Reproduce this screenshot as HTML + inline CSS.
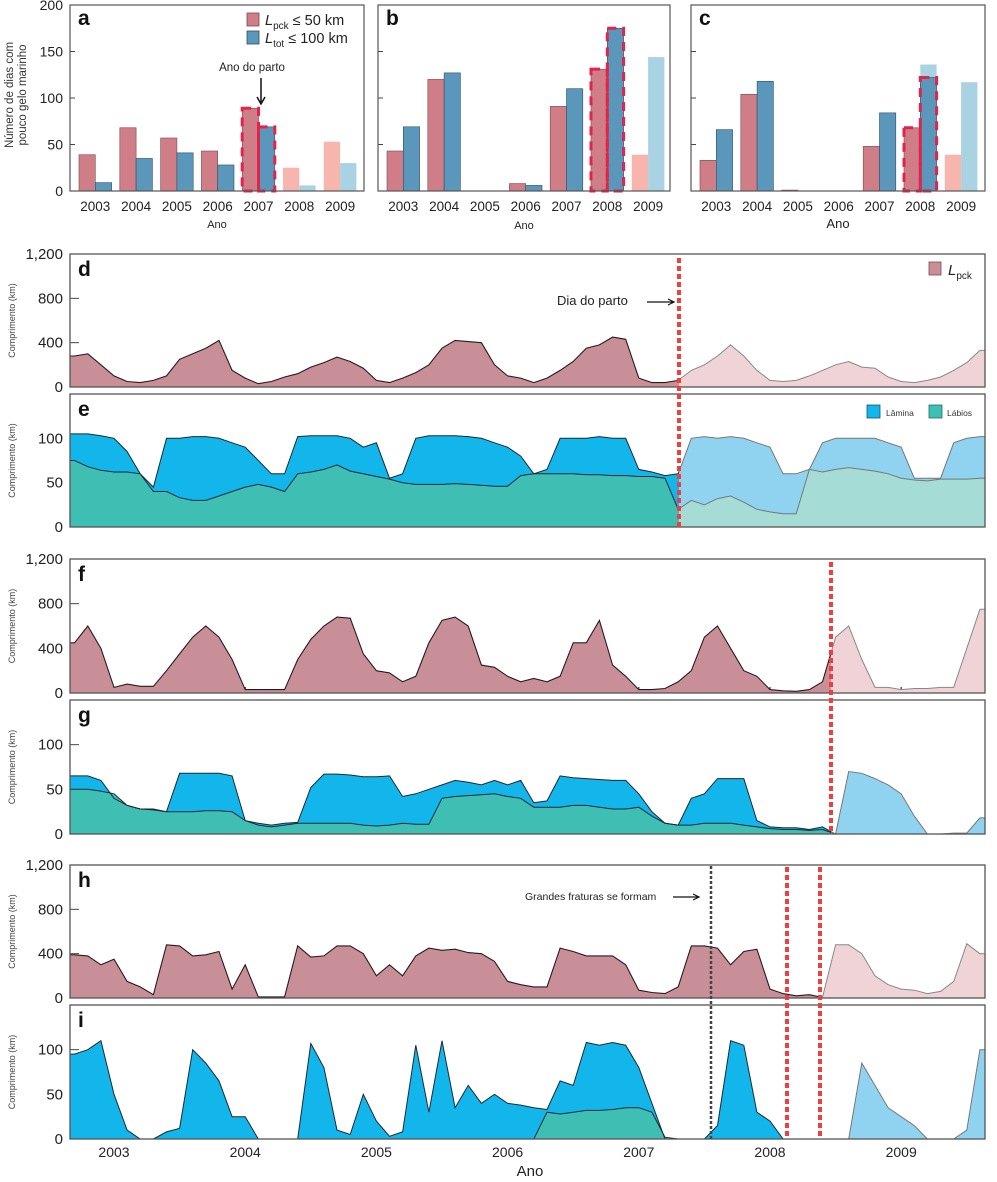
<!DOCTYPE html>
<html><head><meta charset="utf-8">
<style>
html,body{margin:0;padding:0;background:#fff;}
svg{display:block;font-family:"Liberation Sans",sans-serif;}
</style></head>
<body>
<svg id="fig" width="997" height="1182" viewBox="0 0 997 1182" xmlns="http://www.w3.org/2000/svg">
<defs>
<clipPath id="cd-dark"><rect x="70" y="0" width="609" height="1182"/></clipPath>
<clipPath id="cd-light"><rect x="679" y="0" width="306" height="1182"/></clipPath>
<clipPath id="cf-dark"><rect x="70" y="0" width="761" height="1182"/></clipPath>
<clipPath id="cf-light"><rect x="831" y="0" width="154" height="1182"/></clipPath>
<clipPath id="ch-dark"><rect x="70" y="0" width="750" height="1182"/></clipPath>
<clipPath id="ch-light"><rect x="820" y="0" width="165" height="1182"/></clipPath>
</defs>
<g id="root"></g>
</svg>
<script>
// ---- bar chart data (panels a, b, c) ----
const barYears = ["2003","2004","2005","2006","2007","2008","2009"];
const aPck = [39,68,57,43,89,25,53];
const aTot = [9,35,41,28,69,6,30];
const bPck = [43,120,0,8,91,131,39];
const bTot = [69,127,0,6,110,175,144];
const cPck = [33,104,1,0,48,68,39];
const cTot = [66,118,0,0,84,122,117];
const cTotExtra = [0,0,0,0,0,136,0];
const barTicks = [0,50,100,150,200];

// ---- time series data (t = 2002.7 + 0.1*i) ----
const tStart = 2002.7, tStep = 0.1;
const dPck = [280,300,200,
100,50,40,60,100,250,300,350,420,150,
80,30,50,90,120,180,220,270,230,170,
60,40,80,130,200,350,420,410,400,200,
100,80,40,80,150,230,350,380,450,430,
80,40,40,60,150,200,280,380,280,150,
60,50,60,100,150,200,230,180,170,90,
50,40,60,90,150,220,330];
const eTot = [105,105,103,
100,85,60,45,100,100,102,102,100,95,
90,75,60,60,102,103,103,103,100,90,
95,55,60,100,103,103,103,102,100,95,
90,80,60,65,100,100,100,102,100,100,
65,62,58,60,100,102,100,102,100,95,
90,60,60,65,95,100,100,100,100,95,
90,55,55,55,95,100,102];
const eLab = [75,68,64,
62,62,60,40,40,33,30,30,35,40,
45,48,45,40,60,62,65,70,63,60,
57,54,50,48,48,48,49,48,47,46,
46,58,60,60,60,60,59,59,58,58,
57,57,55,20,30,25,32,35,28,20,
17,15,15,65,62,65,67,65,63,60,
55,53,52,54,54,54,55];
const fPck = [450,600,400,
50,80,60,60,200,350,500,600,500,300,
30,30,30,30,300,480,600,680,670,350,
200,180,100,150,450,650,680,600,250,230,
150,100,130,100,150,450,450,650,250,150,
30,30,40,100,200,500,600,400,200,150,
30,20,15,30,100,500,600,300,50,50,
30,40,40,50,50,400,750];
const gTot = [65,65,60,
40,32,28,28,25,68,68,68,68,65,
15,12,10,12,13,52,67,67,66,64,
64,65,42,45,50,55,60,58,55,60,
55,60,35,37,65,63,62,61,60,60,
45,25,12,10,40,45,62,62,62,15,
8,7,7,5,8,0,70,68,62,55,
45,20,0,0,1,1,18];
const gLab = [50,50,48,
45,32,28,27,25,25,25,26,26,25,
15,10,8,10,12,12,12,12,12,10,
9,10,12,11,11,40,42,43,44,45,
42,40,30,30,30,32,32,30,28,28,
30,20,12,10,10,12,12,12,10,8,
6,5,5,4,5,0,0,0,0,0,
0,0,0,0,0,0,0];
const hPck = [390,380,300,
350,150,100,30,480,470,380,390,420,80,
300,10,10,10,470,370,380,470,470,400,
200,300,200,380,450,430,440,410,400,330,
150,120,100,100,450,420,380,380,380,300,
70,50,40,100,470,470,450,300,420,440,
80,40,20,30,5,480,480,400,200,120,
80,70,40,60,150,490,400];
const iTot = [95,100,110,
50,10,0,0,8,12,100,85,65,25,
25,0,0,0,0,107,80,10,5,50,
20,3,8,105,30,110,35,60,40,50,
40,38,35,33,65,60,108,105,108,105,
80,40,0,0,0,0,15,110,105,30,
20,0,0,0,0,0,0,85,60,35,
25,15,0,0,0,10,100];
const iLab = [0,0,0,
0,0,0,0,0,0,0,0,0,0,
0,0,0,0,0,0,0,0,0,0,
0,0,0,0,0,0,0,0,0,0,
0,0,0,30,28,30,32,32,33,35,
35,30,2,0,0,0,0,0,0,0,
0,0,0,0,0,0,0,0,0,0,
0,0,0,0,0,0,0];
const lowYears = [2003,2004,2005,2006,2007,2008,2009];
const pckTicks = [0,400,800,1200];
const kmTicks = [0,50,100];

const NS = "http://www.w3.org/2000/svg";
const root = document.getElementById("root");
function el(tag, attrs, parent){
  const e = document.createElementNS(NS, tag);
  for (const k in attrs) e.setAttribute(k, attrs[k]);
  (parent||root).appendChild(e);
  return e;
}
function txt(x,y,s,size,opts,parent){
  const o = Object.assign({x:x,y:y,"font-size":size,fill:"#222"}, opts||{});
  const e = el("text", o, parent);
  e.textContent = s;
  return e;
}

// ---------- bar panels ----------
const barBottom = 191, barK = 0.93;
function yB(v){ return barBottom - v*barK; }
function barPanel(name, L, R, pck, tot, lightFrom, dashIdx, letter, anoY, anoSize){
  const g = el("g", {});
  
  
  const slot = 40.8, bw = 16.3;
  for (let i=0;i<barYears.length;i++){
    const rx = L + 9 + i*slot;
    const light = i >= lightFrom;
    if (name==="panel-c" && cTotExtra[i]>0){
      const ex = el("rect", {x:rx+bw, y:yB(cTotExtra[i]), width:bw, height:barBottom-yB(cTotExtra[i]), fill:"#a9d2e2"}, g);
      
      
    }
    const r1 = el("rect", {x:rx, y:yB(pck[i]), width:bw, height:barBottom-yB(pck[i]), fill: light?"#f7b5ae":"#cf7d86", stroke: light?"none":"#7a4a50", "stroke-width":0.6}, g);
    
    
    const r2 = el("rect", {x:rx+bw, y:yB(tot[i]), width:bw, height:barBottom-yB(tot[i]), fill: light?"#a9d2e2":"#5b97bb", stroke: light?"none":"#2d4f66", "stroke-width":0.6}, g);
    
    
    if (i===dashIdx){
      const d1 = el("rect", {x:rx, y:yB(pck[i]), width:bw, height:barBottom-yB(pck[i]), fill:"none", stroke:"#e3234b", "stroke-width":3, "stroke-dasharray":"9 6"}, g);
      
      
      const d2 = el("rect", {x:rx+bw, y:yB(tot[i]), width:bw, height:barBottom-yB(tot[i]), fill:"none", stroke:"#e3234b", "stroke-width":3, "stroke-dasharray":"9 6"}, g);
      
      
    }
    const lab = txt(rx+bw, 211, barYears[i], 13.5, {"text-anchor":"middle"}, g);
    
    
  }
  for (const v of barTicks){
    const tk = el("line", {x1:L, x2:L+5, y1:yB(v), y2:yB(v), stroke:"#444", "stroke-width":1}, g);
    
    
  }
  const box = el("rect", {x:L, y:5, width:R-L, height:barBottom-5, fill:"none", stroke:"#555", "stroke-width":1.2}, g);
  
  
  const lt = txt(L+8, 25, letter, 21, {"font-weight":"bold", fill:"#111"}, g);
  
  
  const an = txt((L+R)/2, anoY, "Ano", anoSize, {"text-anchor":"middle"}, g);
  
  
}
barPanel("panel-a", 70, 364, aPck, aTot, 5, 4, "a", 228, 11);
barPanel("panel-b", 378, 670, bPck, bTot, 6, 5, "b", 229, 11);
barPanel("panel-c", 691, 985, cPck, cTot, 6, 5, "c", 228, 13);

// bar y labels
for (const v of barTicks){
  const t = txt(63, yB(v)+5, String(v), 14, {"text-anchor":"end"});
  
  
}
// ---------- time series ----------
const X0 = 114, XK = 131.2, PL = 70, PR = 985;
function X(t){ return X0 + (t-2003)*XK; }
function areaD(arr, sy, base){
  let d = "M"+PL+","+base+" L"+PL+","+sy(arr[0]).toFixed(1);
  for (let i=0;i<arr.length;i++){ d += " L"+X(tStart+i*tStep).toFixed(1)+","+sy(arr[i]).toFixed(1); }
  d += " L"+PR+","+sy(arr[arr.length-1]).toFixed(1)+" L"+PR+","+base+" Z";
  return d;
}
function lineD(arr, sy){
  let d = "M"+PL+","+sy(arr[0]).toFixed(1);
  for (let i=0;i<arr.length;i++){ d += " L"+X(tStart+i*tStep).toFixed(1)+","+sy(arr[i]).toFixed(1); }
  d += " L"+PR+","+sy(arr[arr.length-1]).toFixed(1);
  return d;
}
function frame(name, top, base, letter, ticks, sy){
  const g = el("g", {});
  
  
  const box = el("rect", {x:PL, y:top, width:PR-PL, height:base-top, fill:"none", stroke:"#555", "stroke-width":1.3}, g);
  
  
  for (const v of ticks){
    const tk = el("line", {x1:PL, x2:PL+9, y1:sy(v), y2:sy(v), stroke:"#444", "stroke-width":1}, g);
    
    
    const lb = txt(63, sy(v)+5, v>=1000 ? "1,200" : String(v), 15, {"text-anchor":"end"}, g);
    
    
  }
  for (const y of lowYears){
    const tk = el("line", {x1:X(y), x2:X(y), y1:base, y2:base-6, stroke:"#333", "stroke-width":1.2}, g);
    
    
  }
  const lt = txt(PL+8, top+22, letter, 21, {"font-weight":"bold", fill:"#111"}, g);
  
  
  const yt = txt(0,0,"Comprimento (km)", 9, {transform:"translate(15,"+((top+base)/2)+") rotate(-90)", "text-anchor":"middle", fill:"#444"}, g);
  
  
  return g;
}
function pckPanel(name, top, base, letter, arr, clip){
  const sy = v => base - v*(base-top)/1200;
  const g = frame(name, top, base, letter, pckTicks, sy);
  const a1 = el("path", {d:areaD(arr, sy, base), fill:"#c98f98", "clip-path":"url(#"+clip+"-dark)"}, g);
  
  
  const a2 = el("path", {d:areaD(arr, sy, base), fill:"#efd3d7", "clip-path":"url(#"+clip+"-light)"}, g);
  
  
  const l1 = el("path", {d:lineD(arr, sy), fill:"none", stroke:"#2a1a1e", "stroke-width":1.1, "clip-path":"url(#"+clip+"-dark)"}, g);
  
  
  const l2 = el("path", {d:lineD(arr, sy), fill:"none", stroke:"#888", "stroke-width":1, "clip-path":"url(#"+clip+"-light)"}, g);
  
  
  g.appendChild(g.firstChild); // frame on top
}
function kmPanel(name, top, base, letter, tot, lab, clip){
  const k = (base-top)/150;
  const sy = v => base - v*k;
  const g = frame(name, top, base, letter, kmTicks, sy);
  const parts = [["dark","#12b6ea","#3fbfb4","#1a2a35"],["light","#8fd3f0","#a6dcd6","#777"]];
  for (const p of parts){
    const a = el("path", {d:areaD(tot, sy, base), fill:p[1], "clip-path":"url(#"+clip+"-"+p[0]+")"}, g);
    
    
    const b = el("path", {d:areaD(lab, sy, base), fill:p[2], "clip-path":"url(#"+clip+"-"+p[0]+")"}, g);
    
    
    const l1 = el("path", {d:lineD(tot, sy), fill:"none", stroke:p[3], "stroke-width":1, "clip-path":"url(#"+clip+"-"+p[0]+")"}, g);
    
    
    const l2 = el("path", {d:lineD(lab, sy), fill:"none", stroke:p[3], "stroke-width":1, "clip-path":"url(#"+clip+"-"+p[0]+")"}, g);
    
    
  }
  g.appendChild(g.firstChild);
}
pckPanel("panel-d", 254, 387, "d", dPck, "cd");
kmPanel("panel-e", 394, 527, "e", eTot, eLab, "cd");
pckPanel("panel-f", 559, 693, "f", fPck, "cf");
kmPanel("panel-g", 700, 834, "g", gTot, gLab, "cf");
pckPanel("panel-h", 865, 998, "h", hPck, "ch");
kmPanel("panel-i", 1005, 1139, "i", iTot, iLab, "ch");

// bottom x labels
for (const y of lowYears){
  const t = txt(X(y), 1157, String(y), 14, {"text-anchor":"middle"});
  
  
}
</script>
<svg width="0" height="0"></svg>
<script>
(function(){
const NS="http://www.w3.org/2000/svg";
const svg=document.getElementById("fig");
function add(tag,attrs,text){const e=document.createElementNS(NS,tag);for(const k in attrs)e.setAttribute(k,attrs[k]);if(text!==undefined)e.textContent=text;svg.appendChild(e);return e;}
let e;
e=add("text",{x:530,y:1176,"font-size":15,"text-anchor":"middle",fill:"#222"},"Ano");


e=add("text",{transform:"translate(13,95) rotate(-90)","font-size":11.5,"text-anchor":"middle",fill:"#333"},"Número de dias com");


e=add("text",{transform:"translate(26,95) rotate(-90)","font-size":11.5,"text-anchor":"middle",fill:"#333"},"pouco gelo marinho");


// legend a
e=add("rect",{x:247,y:13,width:12,height:13,fill:"#cf7d86",stroke:"#7a4a50","stroke-width":0.8});


e=add("rect",{x:247,y:31,width:12,height:13,fill:"#5b97bb",stroke:"#2d4f66","stroke-width":0.8});


e=add("text",{x:265,y:25,"font-size":14.5,fill:"#222"});
e.innerHTML='<tspan font-style="italic">L</tspan><tspan font-size="10" dy="4">pck</tspan><tspan dy="-4"> ≤ 50 km</tspan>';


e=add("text",{x:265,y:43,"font-size":14.5,fill:"#222"});
e.innerHTML='<tspan font-style="italic">L</tspan><tspan font-size="10" dy="4">tot</tspan><tspan dy="-4"> ≤ 100 km</tspan>';


e=add("text",{x:252,y:71,"font-size":11.5,"text-anchor":"middle",fill:"#222"},"Ano do parto");


e=add("path",{d:"M261,78 L261,102 M257,97 L261,104 L265,97",stroke:"#111","stroke-width":1.5,fill:"none"});


// legend d
e=add("rect",{x:929,y:262,width:12,height:13,fill:"#c98f98",stroke:"#7a4a50","stroke-width":0.8});


e=add("text",{x:948,y:275,"font-size":15,fill:"#222"});
e.innerHTML='<tspan font-style="italic">L</tspan><tspan font-size="10" dy="4">pck</tspan>';


// legend e
e=add("rect",{x:867,y:405,width:13,height:13,fill:"#12b6ea",stroke:"#1a5070","stroke-width":0.8});


e=add("text",{x:886,y:416,"font-size":8.5,fill:"#333"},"Lâmina");


e=add("rect",{x:929,y:405,width:13,height:13,fill:"#3fbfb4",stroke:"#1f6f66","stroke-width":0.8});


e=add("text",{x:947,y:416,"font-size":8.5,fill:"#333"},"Lábios");


// annotations
e=add("text",{x:557,y:305,"font-size":13,fill:"#222"},"Dia do parto");


e=add("path",{d:"M647,302 L673,302 M668,299 L674,302 L668,305",stroke:"#111","stroke-width":1.2,fill:"none"});


e=add("text",{x:525,y:900,"font-size":10.5,fill:"#222"},"Grandes fraturas se formam");


e=add("path",{d:"M673,897 L698,897 M693,894 L699,897 L693,900",stroke:"#111","stroke-width":1.2,fill:"none"});


// vertical lines
const vl=[[679,258,527,"#ee3e3e","calving-line-d-e"],[831,562,834,"#ee3e3e","calving-line-f-g"],[787,867,1139,"#ee3e3e","calving-line-h-i-1"],[820,867,1139,"#ee3e3e","calving-line-h-i-2"]];
for(const v of vl){
e=add("line",{x1:v[0],x2:v[0],y1:v[1],y2:v[2],stroke:v[3],"stroke-width":4,"stroke-dasharray":"5 3"});


}
e=add("line",{x1:711,x2:711,y1:866,y2:1139,stroke:"#444","stroke-width":2.5,"stroke-dasharray":"3 2"});


})();
</script>
</body></html>
